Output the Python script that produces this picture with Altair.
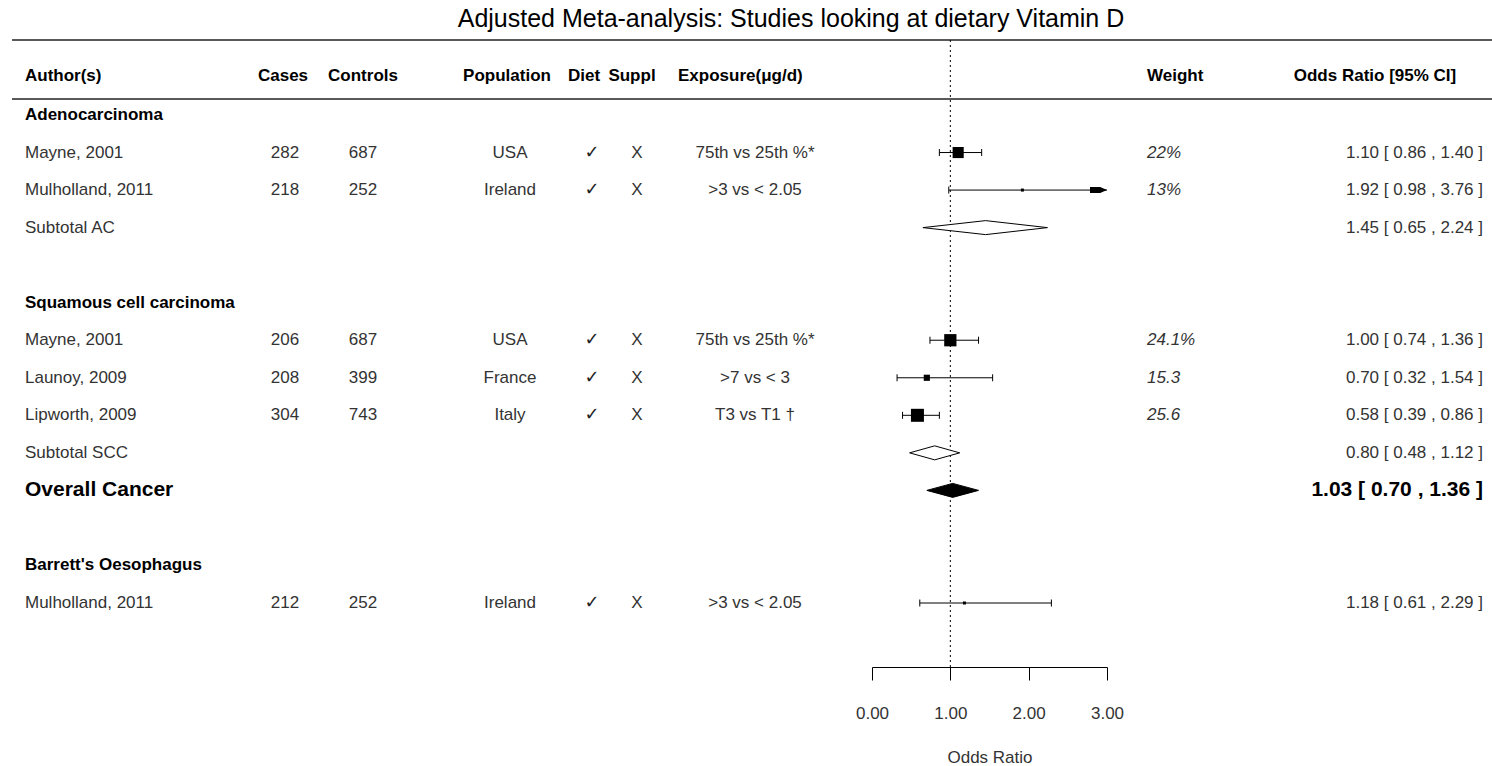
import altair as alt
import pandas as pd

# ---------------- data ----------------
# individual studies (row = line number in the table, 0 = first line under the header)
study_row = [1, 2, 6, 7, 8, 13]
study_author = ["Mayne, 2001", "Mulholland, 2011", "Mayne, 2001",
                "Launoy, 2009", "Lipworth, 2009", "Mulholland, 2011"]
cases = [282, 218, 206, 208, 304, 212]
controls = [687, 252, 687, 399, 743, 252]
population = ["USA", "Ireland", "USA", "France", "Italy", "Ireland"]
diet = ["✓", "✓", "✓", "✓", "✓", "✓"]
suppl = ["X", "X", "X", "X", "X", "X"]
exposure = ["75th vs 25th %*", ">3 vs < 2.05", "75th vs 25th %*",
            ">7 vs < 3", "T3 vs T1 †", ">3 vs < 2.05"]
weight_label = ["22%", "13%", "24.1%", "15.3", "25.6", ""]
weight_value = [22, 13, 24.1, 15.3, 25.6, None]
odds = [1.10, 1.92, 1.00, 0.70, 0.58, 1.18]
ci_low = [0.86, 0.98, 0.74, 0.32, 0.39, 0.61]
ci_high = [1.40, 3.76, 1.36, 1.54, 0.86, 2.29]

# pooled estimates
pooled_row = [3, 9, 10]
pooled_label = ["Subtotal AC", "Subtotal SCC", "Overall Cancer"]
pooled_or = [1.45, 0.80, 1.03]
pooled_low = [0.65, 0.48, 0.70]
pooled_high = [2.24, 1.12, 1.36]
pooled_filled = [False, False, True]

# subgroup headings
section_row = [0, 5, 12]
section_label = ["Adenocarcinoma", "Squamous cell carcinoma", "Barrett's Oesophagus"]

axis_ticks = [0, 1, 2, 3]
headers = ["Author(s)", "Cases", "Controls", "Population", "Diet", "Suppl",
           "Exposure(μg/d)", "Weight", "Odds Ratio [95% CI]"]

title_text = "Adjusted Meta-analysis: Studies looking at dietary Vitamin D"

# ---------------- layout ----------------
W, H_PLOT, H_BOTTOM = 1492, 667, 99
ROW_TOP, ROW_BOTTOM = 115, 603
ROW_PX = (ROW_BOTTOM - ROW_TOP) / 13
X_MAX = axis_ticks[-1]

x_scale = alt.Scale(domain=[0, X_MAX], range=[872, 1107], nice=False, zero=False)
y_scale = alt.Scale(domain=[0, 13], range=[ROW_TOP, ROW_BOTTOM], nice=False, zero=False)
x_axis = alt.Axis(values=axis_ticks, format=".2f", title="Odds Ratio",
                  grid=False, domainColor="black", domainWidth=1,
                  tickColor="black", tickSize=13, tickWidth=1,
                  labelFont="Liberation Sans", labelFontSize=17, labelColor="#333",
                  labelPadding=25, labelFlush=False,
                  titleFont="Liberation Sans", titleFontSize=17, titleFontWeight="normal",
                  titleColor="#333", titlePadding=28)

FONT = "Liberation Sans"
GREY = "#333333"

studies = pd.DataFrame({
    "row": study_row, "author": study_author, "cases": cases, "controls": controls,
    "population": population, "diet": diet, "suppl": suppl, "exposure": exposure,
    "weight": weight_label, "or": odds, "lo": ci_low, "hi": ci_high,
})
min_w = min(w for w in weight_value if w is not None)
studies["box_w"] = [w if w is not None else min_w for w in weight_value]
studies["hi_clip"] = studies["hi"].clip(upper=X_MAX)
studies["ci_text"] = [f"{o:.2f} [ {l:.2f} , {h:.2f} ]" for o, l, h in zip(odds, ci_low, ci_high)]

pooled = pd.DataFrame({"row": pooled_row, "label": pooled_label, "or": pooled_or,
                       "lo": pooled_low, "hi": pooled_high, "filled": pooled_filled})
pooled["ci_text"] = [f"{o:.2f} [ {l:.2f} , {h:.2f} ]" for o, l, h in zip(pooled_or, pooled_low, pooled_high)]

sections = pd.DataFrame({"row": section_row, "label": section_label})

# diamond outlines: left tip, widest point at the estimate, right tip
half = 7 / ROW_PX
diamond_pts = []
for r, lab, o, l, h, f in zip(pooled_row, pooled_label, pooled_or, pooled_low, pooled_high, pooled_filled):
    diamond_pts += [
        {"id": lab, "x": l, "y": r, "y2": r, "filled": f},
        {"id": lab, "x": o, "y": r - half, "y2": r + half, "filled": f},
        {"id": lab, "x": h, "y": r, "y2": r, "filled": f},
    ]
diamonds = pd.DataFrame(diamond_pts)

Y = alt.Y("row:Q", scale=y_scale, axis=None)

# ---------------- forest plot marks ----------------
ref_line = alt.Chart(pd.DataFrame({"x": [1]})).mark_rule(
    color="black", strokeWidth=1, strokeDash=[2, 3]
).encode(x=alt.X("x:Q", scale=x_scale, axis=x_axis), y=alt.value(40), y2=alt.value(H_PLOT))

ci_lines = alt.Chart(studies).mark_rule(color="black", strokeWidth=1).encode(
    x=alt.X("lo:Q", scale=x_scale, axis=x_axis), x2="hi_clip:Q", y=Y)

cap_shape = "M0,-1L0,1"
caps_lo = alt.Chart(studies).mark_point(shape=cap_shape, size=49, filled=False,
                                         color="black", strokeWidth=1, opacity=1).encode(
    x=alt.X("lo:Q", scale=x_scale, axis=x_axis), y=Y)
caps_hi = alt.Chart(studies).transform_filter(f"datum.hi <= {X_MAX}").mark_point(
    shape=cap_shape, size=49, filled=False, color="black", strokeWidth=1, opacity=1).encode(
    x=alt.X("hi:Q", scale=x_scale, axis=x_axis), y=Y)

# confidence limits beyond the axis end in an arrow at the axis limit
arrows = alt.Chart(studies).transform_filter(f"datum.hi > {X_MAX}").mark_point(
    shape="M-2,-0.35L-0.8,-0.35L0,0L-0.8,0.35L-2,0.35Z", size=289, filled=True,
    color="black", opacity=1).encode(
    x=alt.X("hi_clip:Q", scale=x_scale, axis=x_axis), y=Y)

boxes = alt.Chart(studies).mark_square(color="black", opacity=1).encode(
    x=alt.X("or:Q", scale=x_scale, axis=x_axis), y=Y,
    size=alt.Size("box_w:Q", scale=alt.Scale(domain=[13, 25.6], range=[9, 169]), legend=None))

diamond_open = alt.Chart(diamonds).transform_filter("!datum.filled").mark_area(
    fill="white", stroke="black", strokeWidth=1, opacity=1).encode(
    x=alt.X("x:Q", scale=x_scale, axis=x_axis),
    y=alt.Y("y:Q", scale=y_scale, axis=None), y2="y2:Q", detail="id:N")
diamond_fill = alt.Chart(diamonds).transform_filter("datum.filled").mark_area(
    fill="black", stroke="black", strokeWidth=1, opacity=1).encode(
    x=alt.X("x:Q", scale=x_scale, axis=x_axis),
    y=alt.Y("y:Q", scale=y_scale, axis=None), y2="y2:Q", detail="id:N")


# ---------------- table text ----------------
def col(df, field, x, align, size=17, weight="normal", color=GREY, style="normal", font=FONT):
    return alt.Chart(df).mark_text(
        align=align, baseline="middle", fontSize=size, fontWeight=weight,
        color=color, fontStyle=style, font=font
    ).encode(x=alt.value(x), y=Y, text=f"{field}:N")


study_text = [
    col(studies, "author", 25, "left"),
    col(studies, "cases", 285, "center"),
    col(studies, "controls", 363, "center"),
    col(studies, "population", 510, "center"),
    col(studies, "diet", 592, "center", size=18, color="#222", font="DejaVu Sans"),
    col(studies, "suppl", 637, "center"),
    col(studies, "exposure", 755, "center"),
    col(studies, "weight", 1147, "left", style="italic"),
    col(studies, "ci_text", 1483, "right"),
]

pooled_reg = pooled[~pooled["filled"]]
pooled_bold = pooled[pooled["filled"]]
pooled_text = [
    col(pooled_reg, "label", 25, "left"),
    col(pooled_reg, "ci_text", 1483, "right"),
    col(pooled_bold, "label", 25, "left", size=21, weight="bold", color="black"),
    col(pooled_bold, "ci_text", 1483, "right", size=21, weight="bold", color="black"),
]

section_text = col(sections, "label", 25, "left", weight="bold", color="black")

header_x = [25, 283, 363, 507, 584, 632, 678, 1147, 1375]
header_align = ["left", "center", "center", "center", "center", "center", "left", "left", "center"]
header_df = pd.DataFrame({"h": headers, "x": header_x, "align": header_align})
header_layers = [
    alt.Chart(header_df[header_df["align"] == a]).mark_text(
        align=a, baseline="middle", fontSize=17, fontWeight="bold", color="black", font=FONT
    ).encode(x=alt.X("x:Q", scale=None), y=alt.value(76), text="h:N")
    for a in ["left", "center"]
]

rules = alt.Chart(pd.DataFrame({"y": [40, 99]})).mark_rule(color="#222", strokeWidth=1.5).encode(
    x=alt.value(12), x2=alt.value(W), y=alt.Y("y:Q", scale=None))

title = alt.Chart(pd.DataFrame({"t": [title_text]})).mark_text(
    align="center", baseline="middle", fontSize=25, font=FONT, color="black"
).encode(x=alt.value(791), y=alt.value(19), text="t:N")

chart = alt.layer(
    rules, ref_line, ci_lines, caps_lo, caps_hi, arrows, boxes, diamond_open, diamond_fill,
    *study_text, *pooled_text, section_text, *header_layers, title
).properties(
    width=W, height=H_PLOT,
    padding={"left": 0, "top": 0, "right": 0, "bottom": H_BOTTOM},
    autosize=alt.AutoSizeParams(type="none"),
).configure(font=FONT).configure_view(stroke=None, strokeWidth=0)

chart.save("out.html", embed_options={"renderer": "svg", "actions": False})
